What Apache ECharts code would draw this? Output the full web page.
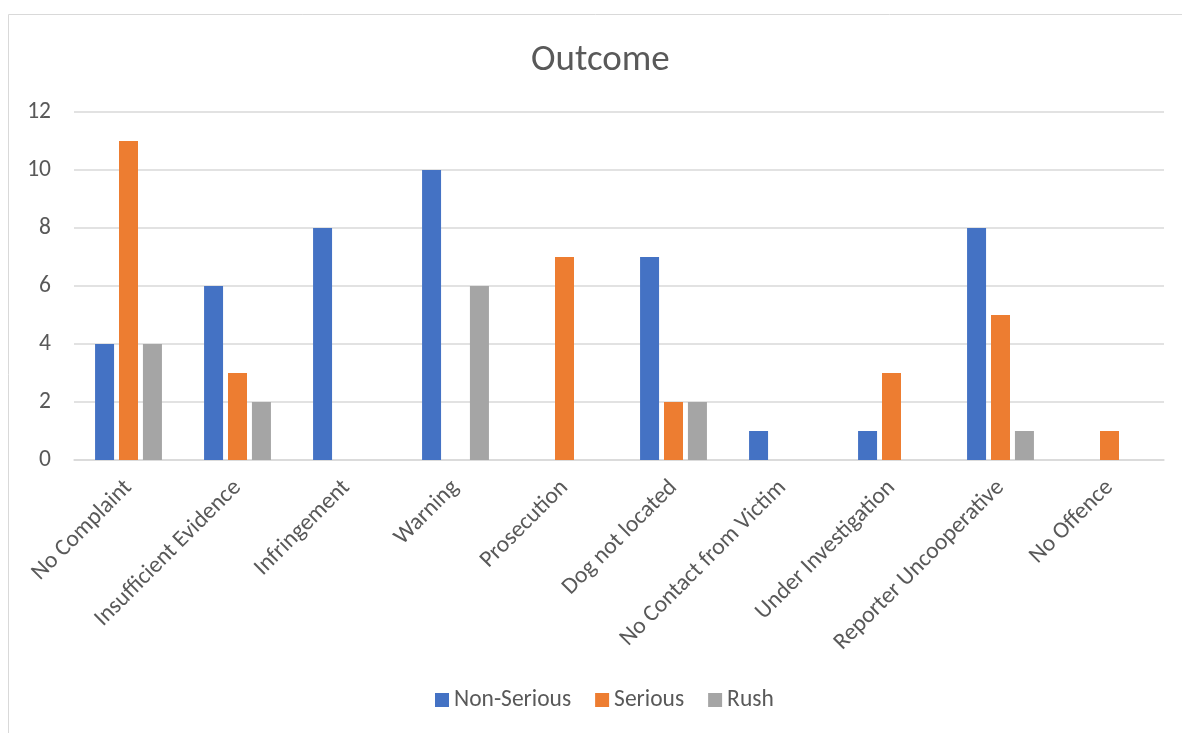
<!DOCTYPE html>
<html><head><meta charset="utf-8">
<script src="https://cdn.jsdelivr.net/npm/echarts@6/dist/echarts.min.js"></script>
<style>html,body{margin:0;padding:0;background:#fff;}#c{width:1182px;height:733px;}</style>
</head><body><div id="c"></div>
<script>
const categories = ["No Complaint","Insufficient Evidence","Infringement","Warning","Prosecution","Dog not located","No Contact from Victim","Under Investigation","Reporter Uncooperative","No Offence"];
const nonSerious = [4,6,8,10,0,7,1,1,8,0];
const serious = [11,3,0,0,7,2,0,3,5,1];
const rush = [4,2,0,6,0,2,0,0,1,0];
const yTicks = [0,2,4,6,8,10,12];

const chart = echarts.init(document.getElementById('c'));
const font = 'Carlito, Lato, sans-serif';
const mk = (name, data, color) => ({
  name, type: 'bar', data: data.map(v => v === 0 ? null : v),
  itemStyle: {color}, barWidth: 19, barGap: '26%'
});
chart.setOption({
  animation: false,
  graphic: [{type:'rect', shape:{x:8.5,y:14.5,width:1200,height:800}, style:{fill:'none', stroke:'#d9d9d9', lineWidth:1}}],
  title: {text:'Outcome', left:526, top:37, textStyle:{fontFamily:font, fontSize:37, fontWeight:'normal', color:'#595959'}},
  legend: {bottom:16, left:430, itemWidth:14, itemHeight:14, itemGap:24, icon:'rect',
    textStyle:{fontFamily:font, fontSize:23.5, color:'#595959'}},
  grid: {left:74, right:18, top:112, bottom:273, containLabel:false},
  xAxis: {type:'category', data:categories,
    axisLine:{lineStyle:{color:'#d9d9d9', width:1.5}}, axisTick:{show:false},
    axisLabel:{rotate:45, interval:0, fontFamily:font, fontSize:23.5, color:'#595959', margin:24}},
  yAxis: {type:'value', min:0, max:12, interval:2,
    axisLine:{show:false}, axisTick:{show:false},
    splitLine:{lineStyle:{color:'#d9d9d9', width:1.5}},
    axisLabel:{fontFamily:font, fontSize:23.5, color:'#595959', margin:23}},
  series: [mk('Non-Serious', nonSerious, '#4472c4'), mk('Serious', serious, '#ed7d31'), mk('Rush', rush, '#a5a5a5')]
});
</script></body></html>
